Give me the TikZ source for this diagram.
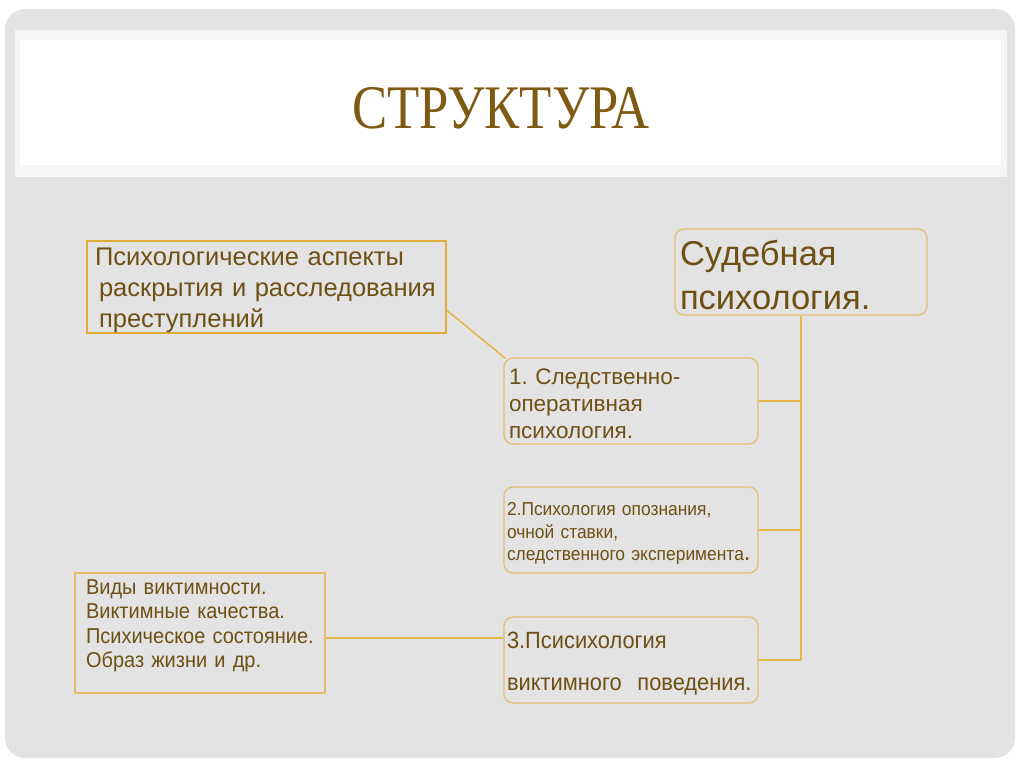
\documentclass[tikz,border=0pt]{standalone}
\usepackage{fontspec}
\setmainfont{Liberation Sans}
\newfontfamily\titlefont[FakeStretch=0.85]{Liberation Serif}
\newfontfamily\narrowfont[FakeStretch=0.93]{Liberation Sans}
\usetikzlibrary{positioning,calc}
\definecolor{slidegray}{HTML}{E3E3E3}
\definecolor{bandgray}{HTML}{F5F5F5}
\definecolor{titlebrown}{HTML}{7F5A12}
\definecolor{textbrown}{HTML}{6E5014}
\definecolor{goldline}{HTML}{E6B54A}
\definecolor{goldbox}{HTML}{E3BC6C}
\definecolor{goldthick}{HTML}{E2A93B}
\frenchspacing
\newcommand{\padtop}[1]{\rule{0pt}{#1}}
\newcommand{\padbot}[1]{\rule[-#1]{0pt}{0pt}}

\tikzset{
  sqbox/.style={draw=goldthick,line width=2.6pt,text=textbrown,align=left,inner xsep=8pt},
  rbox/.style={draw=goldbox,line width=1.2pt,rounded corners=9pt,text=textbrown,align=left,inner xsep=3pt,
    minimum width=254pt,text width=248pt,minimum height=86pt},
  link/.style={draw=goldline,line width=1.5pt}
}

\begin{document}
\begin{tikzpicture}[x=1pt,y=-1pt]
      \useasboundingbox (0,0) rectangle (1024,767);
      \fill[white] (0,0) rectangle (1024,767);
      \fill[slidegray,rounded corners=20pt] (5,9) rectangle (1015,758);
      \fill[bandgray] (15,30) rectangle (1007,177);
      \fill[white] (20,40) rectangle (1001,165);
      \node[text=titlebrown,font=\titlefont\fontsize{62}{68}\selectfont](title) at (501,108){СТРУКТУРА};
      % блоки
      \node[sqbox,inner ysep=0pt,minimum width=359pt,text width=343pt,minimum height=92pt,
        font=\fontsize{25.5}{31}\selectfont](aspects) at (266.5,287)
        {\padtop{0.96em}Психологические аспекты\\\hspace*{4pt}раскрытия и расследования\\\hspace*{4pt}преступлений};
      \node[rbox,minimum width=252pt,text width=242pt,inner xsep=5pt,font=\fontsize{34.5}{44}\selectfont](court) at (801,272)
        {\padtop{0.93em}Судебная\\психология.};
      \node[rbox,inner xsep=5pt,text width=244pt,font=\fontsize{22.5}{27}\selectfont](oper) at (631,401)
        {\padtop{0.98em}1. Следственно-\\оперативная\\психология.};
      \node[rbox,font=\narrowfont\fontsize{18.7}{22.5}\selectfont](ident) at (631,530)
        {\padtop{1.1em}2.Психология опознания,\\очной ставки,\\следственного эксперимента{\fontsize{26}{22.5}\selectfont.}};
      \node[rbox,font=\narrowfont\fontsize{23.5}{42}\selectfont](victim) at (631,660)
        {\padtop{0.98em}3.Псисихология\\виктимного\ \ поведения.};
      \node[sqbox,draw=goldbox,line width=1.2pt,inner xsep=11pt,minimum width=250pt,text width=228pt,
        minimum height=120pt,font=\narrowfont\fontsize{21.5}{24.5}\selectfont](kinds) at (200,633)
        {Виды виктимности.\\Виктимные качества.\\Психическое состояние.\\Образ жизни и др.\padbot{0.88em}};
      % линии
      \draw[link] ($(aspects.north east)!0.75!(aspects.south east)$) -- ([shift={(2pt,-1pt)}]oper.north west);
      \draw[link] (court.south) -- (court.south |- victim.east);
      \draw[link] (oper.east) -- (oper.east -| court.south);
      \draw[link] (ident.east) -- (ident.east -| court.south);
      \draw[link] (victim.east) -- (victim.east -| court.south);
      \draw[link] ([yshift=-5pt]kinds.east) -- ([yshift=-5pt]kinds.east -| victim.west);
    \end{tikzpicture}
\end{document}
